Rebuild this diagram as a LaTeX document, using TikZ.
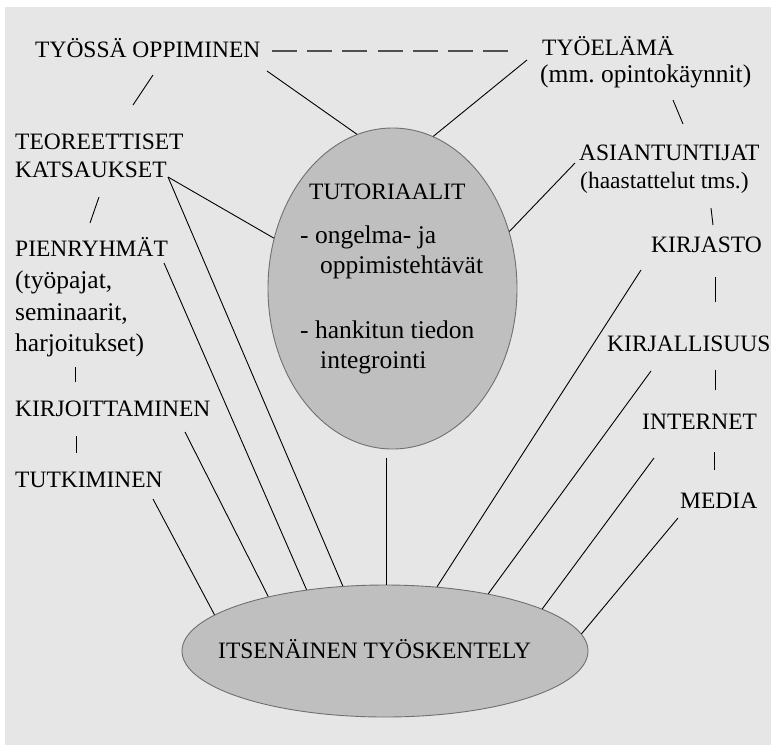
\documentclass[tikz,border=0pt]{standalone}
\usepackage{fontspec}
\setmainfont{Liberation Serif}
\usetikzlibrary{shapes.geometric,calc}
\definecolor{bgcol}{HTML}{E6E6E6}
\definecolor{ellfill}{HTML}{BFBFBF}
\definecolor{elldraw}{HTML}{707070}
\definecolor{dashcol}{HTML}{505050}
\frenchspacing
\tikzset{
  caps/.style={anchor=base west,inner sep=0pt,font=\fontsize{23.5}{28}\selectfont},
  lower/.style={anchor=base west,inner sep=0pt,font=\fontsize{25.5}{30}\selectfont},
  small/.style={anchor=base west,inner sep=0pt,font=\fontsize{23.5}{28}\selectfont},
  oval/.style={ellipse,draw=elldraw,fill=ellfill,line width=0.9pt,inner sep=0pt},
  link/.style={draw=black,line width=0.9pt},
  dashlink/.style={draw=dashcol,line width=2pt,dash pattern=on 25pt off 10.2pt}
}
\begin{document}
\begin{tikzpicture}[x=1pt,y=-1pt]
\useasboundingbox (0,0) rectangle (773,745);
\fill[white] (0,0) rectangle (773,745);
\fill[bgcol] (5,7) rectangle (771,745);

% ellipses
\node[oval,minimum width=249pt,minimum height=321pt] (tut) at (392.5,288.5) {};
\node[oval,minimum width=406pt,minimum height=132pt] (itse) at (385,651) {};

% texts
\node[caps] (tyossa) at (35,57) {TYÖSSÄ OPPIMINEN};
\node[caps] (tyoelama) at (542,55) {TYÖELÄMÄ};
\node[lower] (tyoelamab) at (540,82) {(mm. opintokäynnit)};
\node[caps] (teor) at (15,149) {TEOREETTISET};
\node[caps] (katsa) at (15,177) {KATSAUKSET};
\node[caps] (pien) at (15,256) {PIENRYHMÄT};
\node[lower] (pienb) at (15,288) {(työpajat,};
\node[lower] (pienc) at (15,320) {seminaarit,};
\node[lower] (piend) at (15,351) {harjoitukset)};
\node[caps] (kirjoit) at (15,416) {KIRJOITTAMINEN};
\node[caps] (tutk) at (15,487) {TUTKIMINEN};
\node[caps] (asiant) at (579,160) {ASIANTUNTIJAT};
\node[small] (asiantb) at (580,188) {(haastattelut tms.)};
\node[caps] (kirjasto) at (651,252) {KIRJASTO};
\node[caps] (kirjall) at (607,351) {KIRJALLISUUS};
\node[caps] (internet) at (642,429) {INTERNET};
\node[caps] (media) at (680,508) {MEDIA};

\node[caps] (tuttitle) at (309,199) {TUTORIAALIT};
\node[lower] (tuta) at (300,243) {- ongelma- ja};
\node[lower] (tutb) at (320,273) {oppimistehtävät};
\node[lower] (tutc) at (300,338) {- hankitun tiedon};
\node[lower] (tutd) at (320,368) {integrointi};
\node[caps] (itsetext) at (218,658) {ITSENÄINEN TYÖSKENTELY};

% connector end coordinates near texts
\coordinate (dA) at (272,51);
\coordinate (dB) at (508,51);
\coordinate (a1) at (153,75);  \coordinate (a2) at (133,105);
\coordinate (b1) at (99,197);  \coordinate (b2) at (90,223);
\coordinate (c1) at (75,367);  \coordinate (c2) at (75,382);
\coordinate (e1) at (76,436);  \coordinate (e2) at (76,453);
\coordinate (f1) at (673,100); \coordinate (f2) at (683,124);
\coordinate (g1) at (711,208); \coordinate (g2) at (713,225);
\coordinate (h1) at (715,277); \coordinate (h2) at (715,302);
\coordinate (i1) at (715,370); \coordinate (i2) at (715,390);
\coordinate (j1) at (714,452); \coordinate (j2) at (714,470);
\coordinate (tyossaOut) at (267,71);
\coordinate (tyoelamaOut) at (527,60);
\coordinate (katsaOut) at (168,177);
\coordinate (asiantOut) at (575,163);
\coordinate (pienOut) at (164,263);
\coordinate (kirjoitOut) at (185,432);
\coordinate (tutkOut) at (153,499);
\coordinate (tutOut) at (386,458);
\coordinate (kirjastoOut) at (641,270);
\coordinate (kirjallOut) at (651,371);
\coordinate (internetOut) at (654,458);
\coordinate (mediaOut) at (678,518);

% dashed link
\draw[dashlink] (dA) -- (dB);

% short ticks between stacked items
\draw[link] (a1) -- (a2);
\draw[link] (b1) -- (b2);
\draw[link] (c1) -- (c2);
\draw[link] (e1) -- (e2);
\draw[link] (f1) -- (f2);
\draw[link] (g1) -- (g2);
\draw[link] (h1) -- (h2);
\draw[link] (i1) -- (i2);
\draw[link] (j1) -- (j2);

% links to tutoriaalit
\draw[link] (tyossaOut) -- (tut.103.2);
\draw[link] (tyoelamaOut) -- (tut.75.4);
\draw[link] (katsaOut) -- (tut.157.9);
\draw[link] (asiantOut) -- (tut.26.9);

% links to itsenäinen työskentely
\draw[link] (katsaOut) -- (itse.123.3);
\draw[link] (pienOut) -- (itse.142.7);
\draw[link] (kirjoitOut) -- (itse.155.7);
\draw[link] (tutkOut) -- (itse.168.5);
\draw[link] (tutOut) -- (tutOut |- itse.north);
\draw[link] (kirjastoOut) -- (itse.51.4);
\draw[link] (kirjallOut) -- (itse.29.6);
\draw[link] (internetOut) -- (itse.15.5);
\draw[link] (mediaOut) -- (itse.5.5);
\end{tikzpicture}
\end{document}
